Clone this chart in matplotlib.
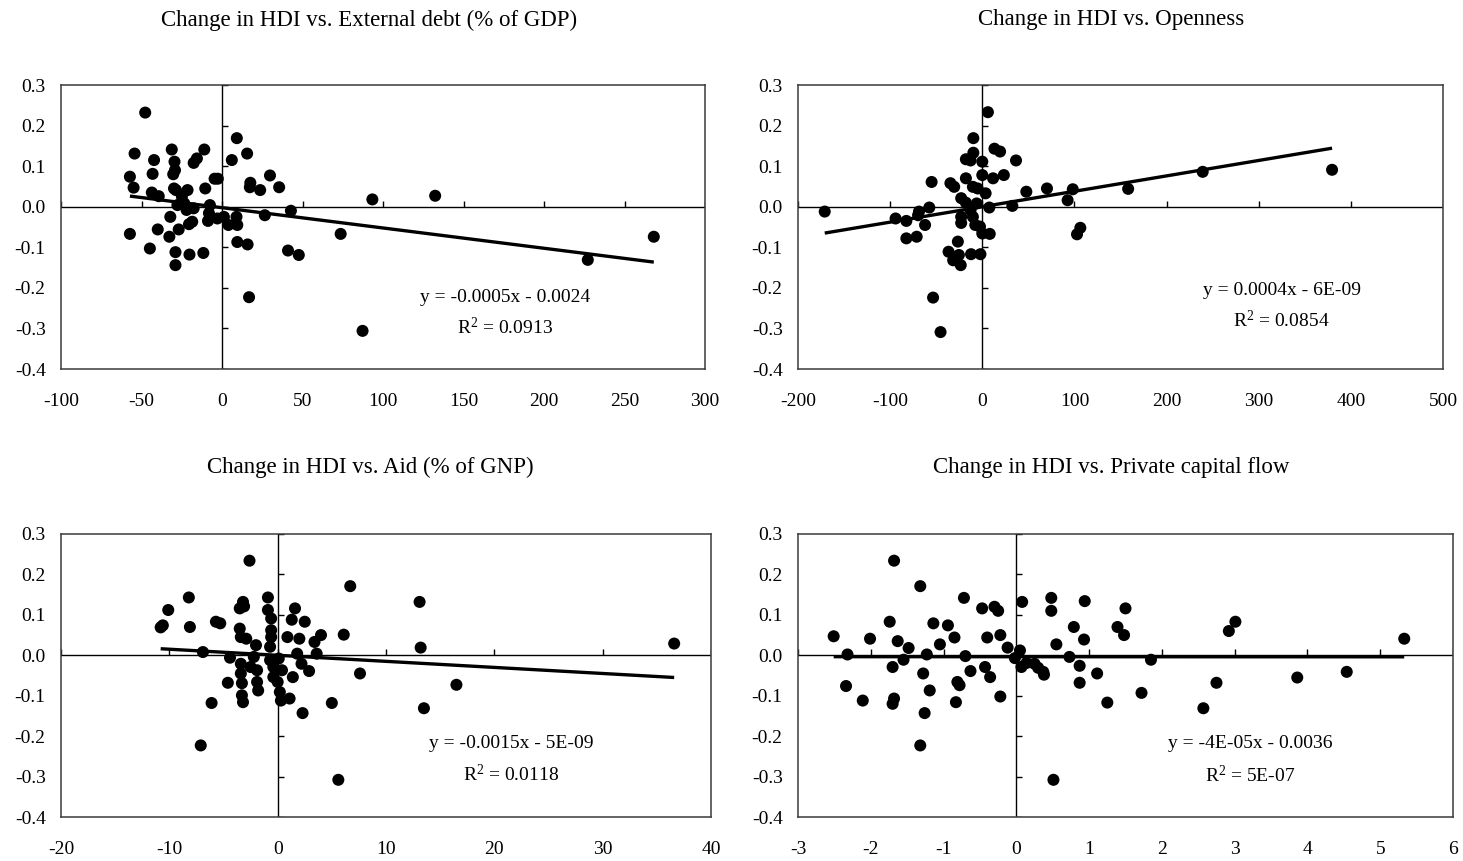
import numpy as np
import matplotlib
matplotlib.use("Agg")
import matplotlib.pyplot as plt
from matplotlib.ticker import FuncFormatter

plt.rcParams['font.family'] = ['Liberation Serif', 'DejaVu Serif']
plt.rcParams['axes.unicode_minus'] = False
plt.rcParams['mathtext.fontset'] = 'custom'
plt.rcParams['mathtext.rm'] = 'Liberation Serif'
plt.rcParams['mathtext.it'] = 'Liberation Serif:italic'

# ---------------- data ----------------
titles = ["Change in HDI vs. External debt (% of GDP)",
          "Change in HDI vs. Openness",
          "Change in HDI vs. Aid (% of GNP)",
          "Change in HDI vs. Private capital flow"]

debt_x = [-47.7, -54.3, -57.2, -54.9, -42.2, -43.1, -43.6, -39.3, -31.2, -29.5, -29.2, -30.3,
          -29.8, -28.6, -21.4, -24.9, -27.7, -23.4, -17.6, -15.6, -11.0, -10.4, -4.6, -2.6,
          -22.0, -17.6, -7.5, -8.1, -8.7, -32.1, -57.2, -39.9, -32.7, -26.9, -20.5, -18.5,
          -44.8, -28.9, -20.2, -11.6, -28.9, -2.9, 1.2, 4.0, 9.0, 9.5, 9.2, 6.1, 15.6, 17.6,
          17.3, 23.7, 29.8, 35.5, 26.6, 42.8, 9.5, 15.9, 41.0, 47.7, 16.8, 73.7, 87.3, 93.4,
          132.4, 227.2, 268.2]
debt_y = [0.232, 0.131, 0.074, 0.047, 0.115, 0.081, 0.035, 0.026, 0.141, 0.111, 0.090, 0.080,
          0.045, 0.041, 0.041, 0.025, 0.004, 0.008, 0.108, 0.119, 0.141, 0.045, 0.069, 0.069,
          -0.008, -0.004, 0.004, -0.016, -0.035, -0.025, -0.067, -0.056, -0.074, -0.056, -0.043,
          -0.037, -0.103, -0.112, -0.118, -0.114, -0.144, -0.029, -0.025, -0.045, -0.025, -0.045,
          0.169, 0.115, 0.131, 0.059, 0.048, 0.041, 0.077, 0.048, -0.021, -0.010, -0.087, -0.093,
          -0.108, -0.119, -0.223, -0.067, -0.306, 0.018, 0.027, -0.131, -0.074]

open_x = [-171.0, -94.1, -82.4, -82.4, -71.2, -68.7, -69.7, -62.1, -57.5, -55.0, -53.4, -45.3,
          -34.6, -30.5, -36.6, -31.6, -26.5, -23.4, -25.4, -22.9, -22.9, -22.9, -17.8, -17.8,
          -12.7, -9.7, -9.7, -17.8, -12.7, -10.2, -7.6, -6.1, -2.5, -2.0, -12.2, 0.0, -10.2,
          -5.1, 0.0, 0.0, 3.6, 6.1, 7.6, 8.1, 11.7, 13.2, 19.3, 23.4, 36.6, 32.6, 47.8, 70.2,
          92.6, 98.2, 102.8, 106.4, 158.3, 239.2, 379.6]
open_y = [-0.012, -0.029, -0.035, -0.078, -0.074, -0.012, -0.021, -0.045, -0.002, 0.061, -0.224,
          -0.309, 0.058, 0.049, -0.111, -0.132, -0.086, -0.144, -0.119, 0.021, -0.025, -0.040,
          0.070, 0.117, 0.114, 0.169, 0.133, 0.010, -0.008, -0.025, -0.045, 0.008, -0.049, -0.117,
          -0.117, -0.066, 0.049, 0.045, 0.111, 0.078, 0.033, 0.233, -0.002, -0.067, 0.070, 0.143,
          0.136, 0.078, 0.114, 0.002, 0.037, 0.045, 0.016, 0.043, -0.068, -0.052, 0.044, 0.086,
          0.091]

aid_x = [-2.6, -10.8, -10.6, -10.1, -8.2, -8.1, -6.9, -7.1, -6.1, -5.7, -5.3, -4.6, -4.4, -3.5,
         -3.2, -3.1, -3.5, -3.4, -2.9, -3.4, -3.4, -3.3, -3.3, -3.2, -2.5, -2.2, -2.0, -1.9,
         -1.9, -1.8, -0.9, -0.9, -0.6, -0.7, -0.7, -0.6, -0.6, -0.4, -0.4, 0.1, 0.0, 0.2, 0.3,
         1.1, 0.4, 0.9, 1.3, 1.6, 2.0, 1.8, 2.2, 1.4, 2.5, 2.9, 2.3, 3.4, 3.6, 4.0, 5.0, 5.6,
         6.1, 6.7, 7.6, 13.1, 13.2, 13.5, 16.5, 36.6]
aid_y = [0.234, 0.069, 0.074, 0.112, 0.143, 0.070, 0.008, -0.223, -0.118, 0.083, 0.079, -0.068,
         -0.006, 0.116, 0.132, 0.121, 0.066, 0.045, 0.041, -0.021, -0.045, -0.069, -0.099, -0.116,
         -0.029, -0.004, 0.025, -0.037, -0.066, -0.087, 0.143, 0.112, 0.091, 0.021, -0.012, 0.062,
         0.045, -0.029, -0.054, -0.008, -0.066, -0.091, -0.112, -0.107, -0.037, 0.045, 0.088,
         0.116, 0.041, 0.004, -0.021, -0.054, 0.083, -0.039, -0.143, 0.033, 0.004, 0.050, -0.118,
         -0.308, 0.051, 0.171, -0.045, 0.132, 0.019, -0.131, -0.073, 0.029]

pcf_x = [-2.51, -2.32, -2.34, -2.11, -2.01, -1.68, -1.74, -1.63, -1.70, -1.68, -1.70, -1.55,
         -1.48, -1.32, -1.32, -1.28, -1.26, -1.23, -1.19, -1.14, -1.05, -0.94, -0.85, -0.83,
         -0.81, -0.78, -0.72, -0.70, -0.63, -0.47, -0.43, -0.40, -0.36, -0.30, -0.25, -0.22,
         -0.22, -0.12, -0.02, 0.05, 0.07, 0.08, 0.14, 0.25, 0.30, 0.37, 0.38, 0.48, 0.48, 0.51,
         0.55, 0.73, 0.79, 0.87, 0.87, 0.93, 0.94, 1.11, 1.25, 1.39, 1.48, 1.50, 1.72, 1.85,
         2.57, 2.75, 2.92, 3.01, 3.86, 4.54, 5.33]
pcf_y = [0.047, 0.002, -0.076, -0.112, 0.041, 0.234, 0.083, 0.035, -0.029, -0.107, -0.120,
         -0.011, 0.018, 0.171, -0.223, -0.045, -0.143, 0.002, -0.087, 0.079, 0.027, 0.074, 0.044,
         -0.116, -0.066, -0.074, 0.142, -0.002, -0.039, 0.116, -0.029, 0.044, -0.054, 0.120, 0.110,
         0.050, -0.102, 0.019, -0.007, 0.012, -0.029, 0.132, -0.019, -0.021, -0.031, -0.041,
         -0.048, 0.142, 0.110, -0.308, 0.027, -0.004, 0.070, -0.026, -0.068, 0.039, 0.134, -0.045,
         -0.117, 0.070, 0.050, 0.116, -0.093, -0.011, -0.131, -0.068, 0.060, 0.083, -0.055,
         -0.041, 0.041]

# trendline coefficients (slope, intercept) and labels
fit_slopes = [-0.0005, 0.00038, -0.0015, -0.00004]
fit_intercepts = [-0.0024, 0.0, 0.0, -0.0036]
eq_labels = ["y = -0.0005x - 0.0024", "y = 0.0004x - 6E-09",
             "y = -0.0015x - 5E-09", "y = -4E-05x - 0.0036"]
r2_labels = ["0.0913", "0.0854", "0.0118", "5E-07"]

x_ticks = [np.arange(-100, 301, 50), np.arange(-200, 501, 100),
           np.arange(-20, 41, 10), np.arange(-3, 7, 1)]
y_ticks = np.round(np.arange(-0.4, 0.31, 0.1), 1)


def yfmt(v, p):
    v = round(v, 1)
    if abs(v) < 1e-9:
        v = 0.0
    return f"{v:.1f}"


# ---------------- layout ----------------
W, H = 1463, 861
fig = plt.figure(figsize=(W / 100, H / 100), dpi=100)
boxes = [(61, 85, 705, 369), (798, 85, 1443, 369),
         (61, 534, 711, 817), (798, 534, 1453, 817)]
title_pos = [(369, 20), (1111, 20), (370, 467), (1111, 467)]
eq_pos = [(0.69, 0.25, 0.145), (0.75, 0.277, 0.171),
          (0.692, 0.259, 0.150), (0.691, 0.259, 0.146)]

xs = [debt_x, open_x, aid_x, pcf_x]
ys = [debt_y, open_y, aid_y, pcf_y]
FS = 14
TFS = 16.5
TICK_PX = 6

for i in range(4):
    l, t, r, b = boxes[i]
    ax = fig.add_axes([l / W, 1 - b / H, (r - l) / W, (b - t) / H])
    xt = x_ticks[i]
    ax.set_xlim(xt[0], xt[-1])
    ax.set_ylim(-0.4, 0.3)
    ax.set_xticks(xt)
    ax.set_yticks(y_ticks)
    ax.yaxis.set_major_formatter(FuncFormatter(yfmt))
    ax.xaxis.set_major_formatter(FuncFormatter(lambda v, p: f"{v:g}"))
    ax.tick_params(length=0, labelsize=FS, colors='black')
    ax.tick_params(axis='x', pad=17)
    ax.tick_params(axis='y', pad=11)
    for s in ax.spines.values():
        s.set_color('#3a3a3a')
        s.set_linewidth(1.1)

    # zero axes with tick marks
    ax.axhline(0, color='black', lw=1.0, zorder=1)
    ax.axvline(0, color='black', lw=1.0, zorder=1)
    y0 = 0.4 / 0.7
    dy = TICK_PX / (b - t)
    ax.vlines(xt, y0, y0 + dy, transform=ax.get_xaxis_transform(), color='black', lw=1.0, zorder=1)
    x0 = (0 - xt[0]) / (xt[-1] - xt[0])
    dx = TICK_PX / (r - l)
    ax.hlines(y_ticks, x0, x0 + dx, transform=ax.get_yaxis_transform(), color='black', lw=1.0, zorder=1)

    ax.scatter(xs[i], ys[i], s=75, color='black', edgecolors='none', zorder=3)

    xx = np.array([min(xs[i]), max(xs[i])])
    ax.plot(xx, fit_slopes[i] * xx + fit_intercepts[i], color='black', lw=2.4,
            solid_capstyle='butt', zorder=4)

    ex, ey, ry = eq_pos[i]
    ax.text(ex, ey, eq_labels[i], transform=ax.transAxes, ha='center', va='center', fontsize=FS)
    ax.text(ex, ry, r"R$^{\mathrm{2}}$ = " + r2_labels[i], transform=ax.transAxes,
            ha='center', va='center', fontsize=FS)

    tx, ty = title_pos[i]
    fig.text(tx / W, 1 - ty / H, titles[i], ha='center', va='center', fontsize=TFS)

fig.savefig("out.png", dpi=100)
